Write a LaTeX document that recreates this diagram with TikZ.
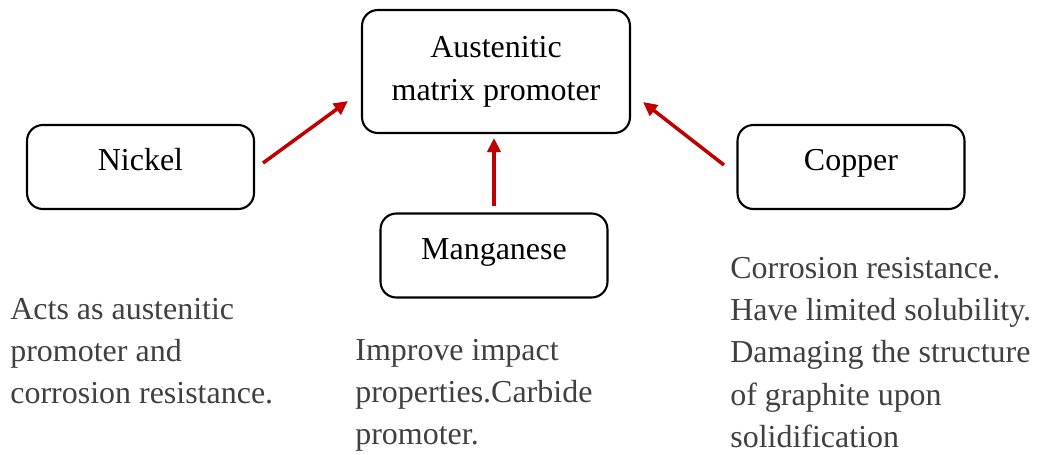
\documentclass[tikz,border=0pt]{standalone}
\usepackage{fontspec}
\setmainfont{Liberation Serif}
\usetikzlibrary{arrows.meta}
\definecolor{arrred}{HTML}{C00000}
\definecolor{desctext}{HTML}{404040}
\tikzset{
  element/.style={draw, line width=1.2pt, rounded corners=9pt, minimum width=4.54cm,
    minimum height=1.68cm, align=center, text height=0.45cm, text depth=0.3cm,
    font=\fontsize{18.2}{24.4}\selectfont},
  effect/.style={-{Triangle[length=8pt, width=7.5pt]}, arrred, line width=2pt},
  note/.style={anchor=north west, inner sep=0pt, align=left, text=desctext,
    font=\fontsize{18.2}{24}\selectfont}
}
\begin{document}
\begin{tikzpicture}[x=0.02cm, y=-0.02cm]
  \useasboundingbox (0,0) rectangle (1038,454);
  \node[draw, line width=1.2pt, rounded corners=9pt, minimum width=5.36cm,
    minimum height=2.46cm, align=center, font=\fontsize{18.2}{24.4}\selectfont]
    (Promoter) at (496,71.5) {Austenitic\\matrix promoter};
  \node[element] (Nickel) at (140.5,167) {Nickel};
  \node[element] (Copper) at (851,167) {Copper};
  \node[element] (Manganese) at (494,255.5) {Manganese};

  \coordinate (n1) at (263,163);
  \coordinate (n2) at (348,101);
  \coordinate (m1) at (494,206);
  \coordinate (m2) at (494,138);
  \coordinate (c1) at (724,165);
  \coordinate (c2) at (643,102);
  \draw[effect] (n1) -- (n2);
  \draw[effect] (m1) -- (m2);
  \draw[effect] (c1) -- (c2);

  \node[note] (NickelNote) at (10,298)
    {Acts as austenitic\\promoter and\\corrosion resistance.};
  \node[note] (ManganeseNote) at (355,339)
    {Improve impact\\properties.Carbide\\promoter.};
  \node[note] (CopperNote) at (730,257)
    {Corrosion resistance.\\Have limited solubility.\\Damaging the structure\\of graphite upon\\solidification};
\end{tikzpicture}
\end{document}
